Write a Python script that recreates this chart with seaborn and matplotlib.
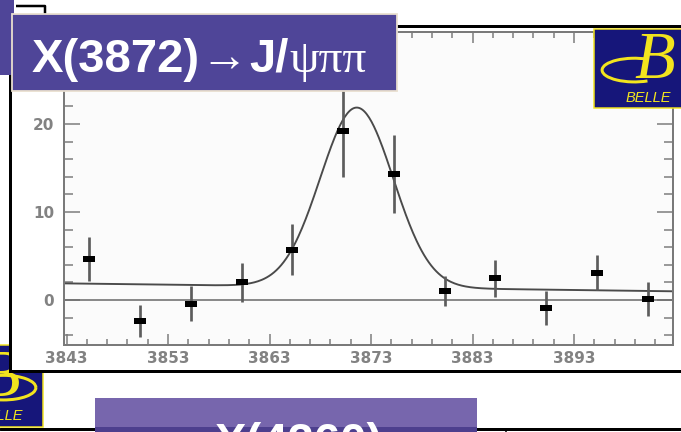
import numpy as np
import matplotlib
matplotlib.use("Agg")
import matplotlib.pyplot as plt
from matplotlib.patches import Rectangle, Arc
from matplotlib.path import Path
from matplotlib.ticker import FixedLocator, MultipleLocator
import seaborn as sns

# J/psi pi+ pi- invariant mass, 5 MeV bins (events per bin)
mass = [3845.25, 3850.25, 3855.25, 3860.25, 3865.25, 3870.25,
        3875.25, 3880.25, 3885.25, 3890.25, 3895.25, 3900.25]
events = [4.7, -2.4, -0.4, 2.0, 5.7, 19.2, 14.3, 1.0, 2.5, -0.9, 3.1, 0.1]
errors = [2.5, 1.8, 2.0, 2.2, 2.9, 5.2, 4.4, 1.7, 2.1, 1.9, 2.0, 1.9]

# Fit result: Gaussian signal on top of a linear background
peak_mass = 3871.6
peak_sigma = 3.6
peak_height = 20.4
bkg_low = 1.9    # background level at the lower mass edge
bkg_high = 1.0   # background level at the upper mass edge

x_range = (3842.75, 3902.75)
y_range = (-5.1, 30.45)
x_ticks = [3843, 3853, 3863, 3873, 3883, 3893]
y_ticks = [0, 10, 20]

title_parts = ["X(3872)", "\u2192", "J/", "\u03c8\u03c0\u03c0"]
lower_title = "X(4260)"
logo_label = "BELLE"

W, H = 681, 432
PX = 0.72  # points per pixel at dpi 100

sns.set_style("ticks")
plt.rcParams["font.family"] = ["DejaVu Sans"]

fig = plt.figure(figsize=(W / 100, H / 100), dpi=100, facecolor="white")

# ---------- page layer behind the plot ----------
bg = fig.add_axes([0, 0, 1, 1], zorder=0)
bg.set_xlim(0, W)
bg.set_ylim(H, 0)
bg.axis("off")

NAVY = "#16167a"
YELLOW = "#f2e41e"


def belle_logo(axp, x0, y0, w, h, z, b_dx=0.0, arc_dx=0.0, label_dx=0.0,
               arc_span=(40, 320)):
    axp.add_patch(Rectangle((x0, y0), w, h, facecolor=NAVY, edgecolor=YELLOW,
                            lw=1.5 * PX, zorder=z))
    axp.text(x0 + 0.68 * w + b_dx, y0 + 0.62 * h, "B", family="Liberation Serif",
             style="italic", fontsize=48, color=YELLOW, ha="center",
             va="baseline", zorder=z + 0.1)
    axp.add_patch(Arc((x0 + 0.45 * w + arc_dx, y0 + 0.52 * h), 0.72 * w,
                      0.30 * h, theta1=arc_span[0], theta2=arc_span[1],
                      color=YELLOW, lw=3 * PX, zorder=z + 0.1))
    axp.text(x0 + 0.60 * w + label_dx, y0 + 0.87 * h, logo_label,
             family="Liberation Sans", style="italic", fontsize=10.5,
             color=YELLOW, ha="center", va="center", zorder=z + 0.1)


# logo peeking out at the lower left
belle_logo(bg, -47, 345, 90, 82, 1, b_dx=-14, arc_dx=10, label_dx=-7,
           arc_span=(0, 360))

# white slide picture with a black border
bg.add_patch(Rectangle((9.5, 25.5), 720, 345, facecolor="white",
                       edgecolor="black", lw=3 * PX, zorder=2))
# small black bracket in the upper left
bg.plot([16, 45, 45], [6, 6, 16], color="black", lw=2.5 * PX, zorder=2,
        solid_capstyle="butt")
# rule along the bottom of the page
bg.plot([0, W], [429, 429], color="black", lw=3 * PX, zorder=2)
bg.plot([506, 506], [429, 432], color="black", lw=1.5 * PX, zorder=2)
# lower heading box
bg.add_patch(Rectangle((95, 398), 382, 40, facecolor="#7766ad",
                       edgecolor="none", zorder=3))
bg.add_patch(Rectangle((95, 427), 382, 6, facecolor="#4d3f8e",
                       edgecolor="none", zorder=3.05))
bg.text(215, 456, lower_title, family="Liberation Sans", weight="bold",
        fontsize=34, color="white", ha="left", va="baseline", zorder=3.1)

# ---------- the mass spectrum ----------
ax = fig.add_axes([64 / W, (H - 345) / H, (673 - 64) / W, (345 - 32) / H],
                  zorder=1)
ax.set_facecolor("#fbfbfb")

m = np.linspace(x_range[0], x_range[1], 500)
bkg = bkg_low + (bkg_high - bkg_low) * (m - x_range[0]) / (x_range[1] - x_range[0])
fit = bkg + peak_height * np.exp(-0.5 * ((m - peak_mass) / peak_sigma) ** 2)

ax.axhline(0, color="#6e6e6e", lw=1.6 * PX, zorder=1)
sns.lineplot(x=m, y=fit, ax=ax, color="#4a4a4a", lw=1.9 * PX, zorder=2)
ax.errorbar(mass, events, yerr=errors, fmt="none", ecolor="#5c5c5c",
            elinewidth=2.7 * PX, capsize=0, zorder=3)
bar_marker = Path([(-1, -0.5), (1, -0.5), (1, 0.5), (-1, 0.5), (-1, -0.5)],
                  [Path.MOVETO, Path.LINETO, Path.LINETO, Path.LINETO,
                   Path.CLOSEPOLY])
sns.scatterplot(x=mass, y=events, ax=ax, marker=bar_marker,
                s=(12 * PX) ** 2, color="black", linewidth=0, zorder=4)

ax.set_xlim(*x_range)
ax.set_ylim(*y_range)
ax.set_xlabel("")
ax.set_ylabel("")
ax.xaxis.set_major_locator(FixedLocator(x_ticks))
ax.xaxis.set_minor_locator(MultipleLocator(2, offset=1))
ax.yaxis.set_major_locator(FixedLocator(y_ticks))
ax.yaxis.set_minor_locator(MultipleLocator(2))

FRAME = "#7a7a7a"
ax.tick_params(which="both", direction="in", top=True, right=True,
               color=FRAME, width=1.5 * PX, labelcolor="#828282",
               labelsize=11)
ax.tick_params(axis="x", which="major", length=11 * PX, pad=4)
ax.tick_params(axis="x", which="minor", length=6 * PX)
ax.tick_params(axis="y", which="major", length=16 * PX, pad=7)
ax.tick_params(axis="y", which="minor", length=9 * PX)
for lab in ax.get_xticklabels() + ax.get_yticklabels():
    lab.set_fontweight("semibold")
for sp in ax.spines.values():
    sp.set_color(FRAME)
    sp.set_linewidth(2 * PX)

# ---------- overlays on top of the plot ----------
fg = fig.add_axes([0, 0, 1, 1], zorder=2)
fg.set_xlim(0, W)
fg.set_ylim(H, 0)
fg.axis("off")

fg.add_patch(Rectangle((0, 0), 14, 75, facecolor="#4f4598", edgecolor="none"))
fg.add_patch(Rectangle((12, 14), 385, 77, facecolor="#4f4598",
                       edgecolor="#e9dfcf", lw=1.8 * PX))
base_y = 71.5
fg.text(32, base_y, title_parts[0], family="Liberation Sans", weight="bold",
        fontsize=34, color="white", va="baseline", ha="left")
fg.text(200, base_y, title_parts[1], family="Liberation Serif",
        fontsize=34, color="white", va="baseline", ha="left")
fg.text(249, base_y, title_parts[2], family="Liberation Sans", weight="bold",
        fontsize=34, color="white", va="baseline", ha="left")
fg.text(289, base_y, title_parts[3], family="Liberation Serif",
        fontsize=34, color="white", va="baseline", ha="left")

belle_logo(fg, 594, 29, 90, 79, 5)

fig.savefig("out.png", dpi=100, facecolor="white")
